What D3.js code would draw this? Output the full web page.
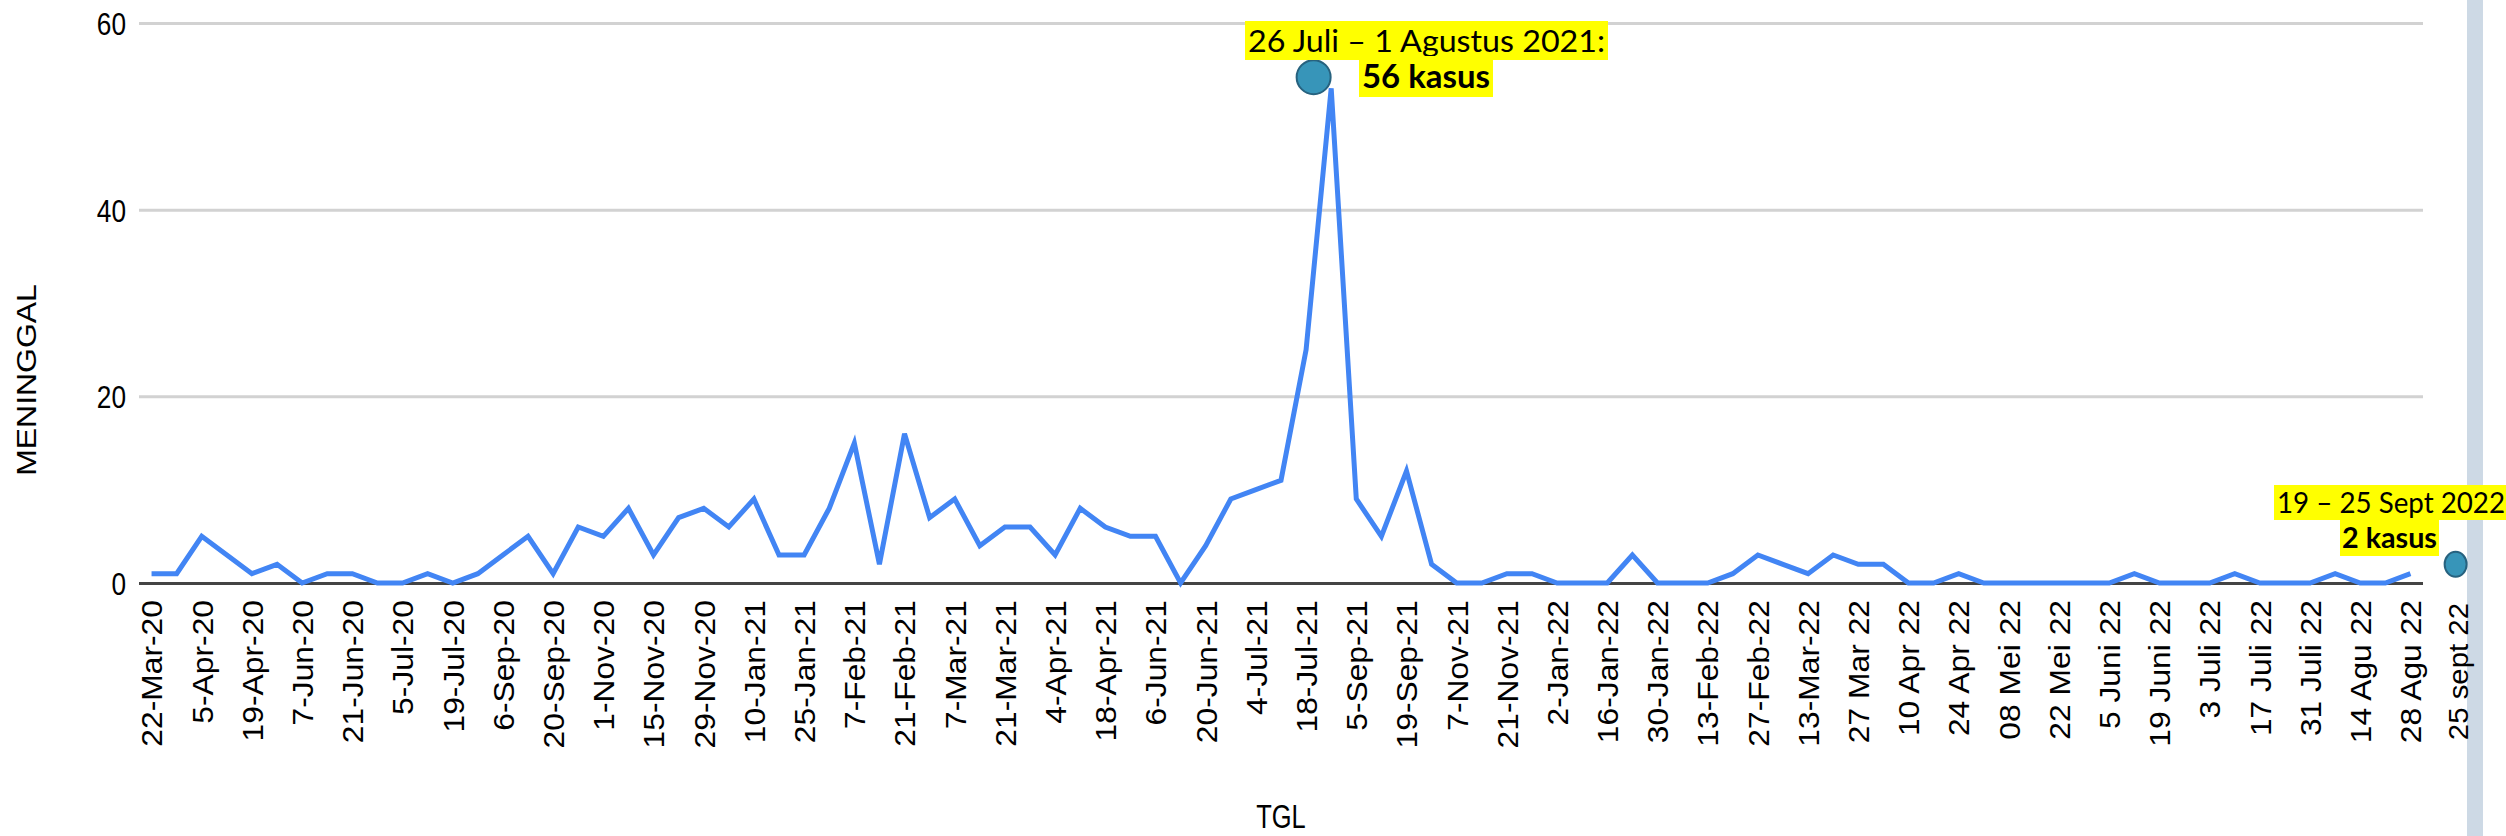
<html>
<head>
<script src="https://cdnjs.cloudflare.com/ajax/libs/d3/7.8.5/d3.min.js"></script>
<style>
  body { margin: 0; background: #fff; }
  svg { display: block; }
</style>
</head>
<body>
<svg id="chart" width="2506" height="836"></svg>
<script>
// weekly deaths (MENINGGAL), one value per week shown on the chart
const deaths = [1, 1, 5, 3, 1, 2, 0, 1, 1, 0, 0, 1, 0, 1, 3, 5, 1, 6, 5, 8,
                3, 7, 8, 6, 9, 3, 3, 8, 15, 2, 16, 7, 9, 4, 6, 6, 3, 8, 6, 5,
                5, 0, 4, 9, 10, 11, 25, 53, 9, 5, 12, 2, 0, 0, 1, 1, 0, 0, 0, 3,
                0, 0, 0, 1, 3, 2, 1, 3, 2, 2, 0, 0, 1, 0, 0, 0, 0, 0, 0, 1,
                0, 0, 0, 1, 0, 0, 0, 1, 0, 0, 1];

// tick labels, every second week
const weekLabels = ["22-Mar-20", "5-Apr-20", "19-Apr-20", "7-Jun-20", "21-Jun-20", "5-Jul-20",
  "19-Jul-20", "6-Sep-20", "20-Sep-20", "1-Nov-20", "15-Nov-20", "29-Nov-20", "10-Jan-21",
  "25-Jan-21", "7-Feb-21", "21-Feb-21", "7-Mar-21", "21-Mar-21", "4-Apr-21", "18-Apr-21",
  "6-Jun-21", "20-Jun-21", "4-Jul-21", "18-Jul-21", "5-Sep-21", "19-Sep-21", "7-Nov-21",
  "21-Nov-21", "2-Jan-22", "16-Jan-22", "30-Jan-22", "13-Feb-22", "27-Feb-22", "13-Mar-22",
  "27 Mar 22", "10 Apr 22", "24 Apr 22", "08 Mei 22", "22 Mei 22", "5 Juni 22", "19 Juni 22",
  "3 Juli 22", "17 Juli 22", "31 Juli 22", "14 Agu 22", "28 Agu 22"];

const yTicks = [0, 20, 40, 60];

// highlighted weeks: position (week index, value) and the text next to them
const noteWeeks = [46.3, 91.8];
const noteValues = [54.2, 2];
const noteLines = ["26 Juli \u2013 1 Agustus 2021:", "19 \u2013 25 Sept 2022"];
const noteCases = ["56 kasus", "2 kasus"];
const extraLabel = "25 sept 22";

const svg = d3.select("#chart");
const pLeft = 139, pRight = 2423, pTop = 23, pBottom = 583;

const x = d3.scaleBand().domain(d3.range(deaths.length)).range([pLeft, pRight]);
const cx = i => x(i) + x.bandwidth() / 2;
const xLin = d3.scaleLinear().domain([0, deaths.length - 1]).range([cx(0), cx(deaths.length - 1)]);
const y = d3.scaleLinear().domain([0, 60]).range([pBottom, pTop]);

// side bar at the right edge
svg.append("rect").attr("x", 2467).attr("y", 0).attr("width", 16).attr("height", 836)
  .attr("fill", "#cdd9e5");

// gridlines + y labels
const yAxis = svg.append("g").attr("transform", `translate(${pLeft},0)`)
  .call(d3.axisLeft(y).tickValues(yTicks).tickSize(-(pRight - pLeft)).tickPadding(13));
yAxis.select(".domain").remove();
yAxis.selectAll(".tick line").attr("stroke", d => d === 0 ? "#444" : "#d2d2d2").attr("stroke-width", 3);
yAxis.selectAll(".tick text")
  .attr("font-family", "Liberation Sans, Arial, sans-serif").attr("font-size", 32).attr("fill", "#000")
  .attr("dy", "0.36em")
  .attr("transform", "translate(-13) scale(0.82,1) translate(13)");

// x labels
const xAxis = svg.append("g").attr("transform", `translate(0,${pBottom})`)
  .call(d3.axisBottom(x).tickValues(d3.range(0, deaths.length, 2))
    .tickFormat(i => weekLabels[i / 2]).tickSize(0));
xAxis.select(".domain").remove();
xAxis.selectAll(".tick text")
  .attr("font-family", "Liberation Sans, Arial, sans-serif").attr("font-size", 30).attr("fill", "#000")
  .attr("text-anchor", "end").attr("x", 0).attr("y", 0).attr("dy", "0.36em")
  .attr("transform", "translate(0,17) rotate(-90) scale(1.06,1)");

// extra label for the last highlighted week
svg.append("text")
  .attr("transform", `translate(${xLin(noteWeeks[1]) + 2},603) rotate(-90) scale(1.05,1)`)
  .attr("text-anchor", "end").attr("dy", "0.36em")
  .attr("font-family", "Liberation Sans, Arial, sans-serif").attr("font-size", 28)
  .text(extraLabel);

// axis titles
svg.append("text").attr("transform", `translate(${(pLeft + pRight) / 2},828) scale(0.77,1)`)
  .attr("text-anchor", "middle")
  .attr("font-family", "Liberation Sans, Arial, sans-serif").attr("font-size", 33)
  .text("TGL");
svg.append("text").attr("transform", "translate(26,380) rotate(-90) scale(1.14,1)")
  .attr("text-anchor", "middle").attr("dy", "0.36em")
  .attr("font-family", "Liberation Sans, Arial, sans-serif").attr("font-size", 28)
  .text("MENINGGAL");

// the line
const line = d3.line().x((d, i) => cx(i)).y(d => y(d));
svg.append("path").datum(deaths)
  .attr("d", line).attr("fill", "none")
  .attr("stroke", "#4285f4").attr("stroke-width", 5);

// highlight markers
svg.selectAll("ellipse.note").data(noteWeeks).enter().append("ellipse")
  .attr("class", "note")
  .attr("cx", d => xLin(d))
  .attr("cy", (d, i) => y(noteValues[i]))
  .attr("rx", (d, i) => i === 0 ? 17 : 11)
  .attr("ry", (d, i) => i === 0 ? 17 : 12.5)
  .attr("fill", "#3795b9").attr("stroke", "#27627f").attr("stroke-width", 2);

// highlight texts with yellow background
function note(txt, tx, ty, width, bold, size, pad) {
  const g = svg.append("g");
  const r = g.append("rect").attr("fill", "#ffff00");
  const t = g.append("text").attr("x", tx).attr("y", ty)
    .attr("font-family", "Lato, 'Open Sans', sans-serif")
    .attr("font-size", size).attr("font-weight", bold ? 700 : 400)
    .attr("textLength", width).attr("lengthAdjust", "spacingAndGlyphs")
    .text(txt);
  const b = t.node().getBBox();
  r.attr("x", tx - pad[0]).attr("y", b.y + pad[1]).attr("width", width + 2 * pad[0]).attr("height", b.height - pad[1] + pad[2]);
}
note(noteLines[0], 1248, 52, 357, false, 31, [3, 0, 1]);
note(noteCases[0], 1362, 88, 128, true, 32, [3, 0, 2]);
note(noteLines[1], 2277, 513, 228, false, 28, [3, 0, 1]);
note(noteCases[1], 2342, 548, 95, true, 29, [2, 0, 2]);
</script>
</body>
</html>
